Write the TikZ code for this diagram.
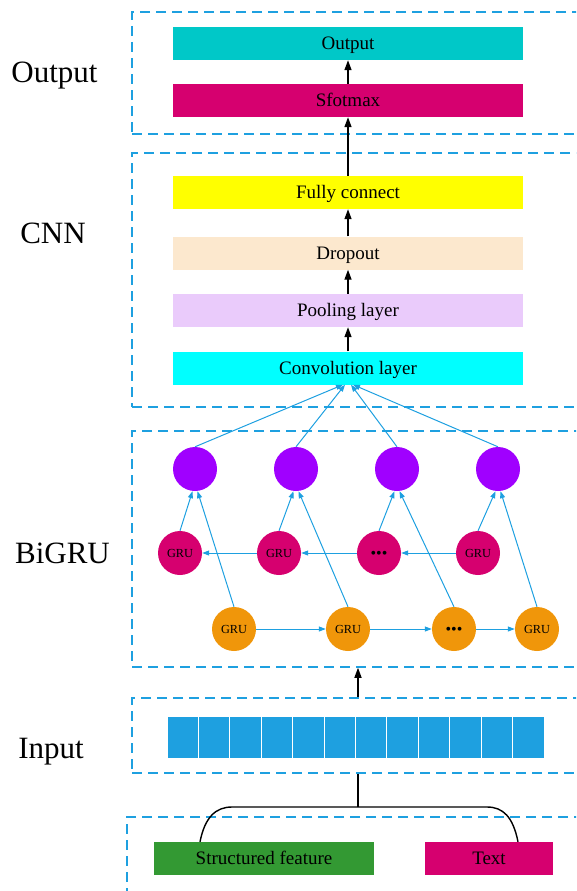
\documentclass[tikz,border=0pt]{standalone}
\usepackage{fontspec}
\setmainfont{Liberation Serif}
\usetikzlibrary{arrows.meta,calc}

\definecolor{lineblue}{RGB}{30,160,224}
\definecolor{outteal}{RGB}{0,200,200}
\definecolor{magentared}{RGB}{214,0,111}
\definecolor{fcyellow}{RGB}{255,255,0}
\definecolor{dropbisque}{RGB}{252,232,206}
\definecolor{poollilac}{RGB}{234,203,251}
\definecolor{convcyan}{RGB}{0,255,255}
\definecolor{hidpurple}{RGB}{160,0,255}
\definecolor{gruorange}{RGB}{240,150,10}
\definecolor{cellblue}{RGB}{30,160,224}
\definecolor{featgreen}{RGB}{51,153,51}

\tikzset{
  stagebox/.style={draw=lineblue, line width=1.5pt, dash pattern=on 10pt off 6pt,
    inner sep=0pt, rectangle},
  layerbox/.style={rectangle, fill=#1, minimum width=350pt, minimum height=33pt,
    inner sep=0pt, text height=12.5pt, text depth=0pt,
    font=\fontsize{19}{22}\selectfont},
  sidelabel/.style={font=\fontsize{31}{36}\selectfont, inner sep=0pt,
    text height=20.5pt, text depth=0pt},
  hidden/.style={circle, fill=hidpurple, minimum size=44pt, inner sep=0pt},
  grucirc/.style={circle, fill=#1, minimum size=44pt, inner sep=0pt,
    text height=8.1pt, text depth=0pt, font=\fontsize{12.3}{14}\selectfont},
  dots/.style={font=\fontsize{16}{16}\selectfont, text height=10pt},
  cell/.style={rectangle, fill=cellblue, draw=white, line width=1pt,
    minimum width=31.42pt, minimum height=42pt, inner sep=0pt},
  featbox/.style={rectangle, fill=#1, minimum height=33pt, inner sep=0pt,
    text height=12.5pt, text depth=0pt, font=\fontsize{19}{22}\selectfont},
  blackarrow/.style={line width=1.4pt, -{Triangle[width=7pt,length=10pt]}},
  bluearrow/.style={draw=lineblue, line width=1pt,
    -{Triangle[width=5pt,length=7pt]}, color=lineblue},
}

\begin{document}
\begin{tikzpicture}[x=1pt,y=-1pt]
\useasboundingbox (0,0) rectangle (576,891);
\clip (0,0) rectangle (576,891);

% stage frames (open to the right)
\node[stagebox, minimum width=468pt, minimum height=122pt] (outbox) at (366,73) {};
\node[stagebox, minimum width=468pt, minimum height=254pt] (cnnbox) at (366,280) {};
\node[stagebox, minimum width=468pt, minimum height=236pt] (grubox) at (366,549) {};
\node[stagebox, minimum width=468pt, minimum height=75pt] (inbox) at (366,735.5) {};
\node[stagebox, minimum width=473pt, minimum height=103pt] (botbox) at (363.5,868.5) {};

% stage names
\node[sidelabel] (lout) at (54.5,72) {Output};
\node[sidelabel] (lcnn) at (53,233.5) {CNN};
\node[sidelabel] (lgru) at (62.5,553.5) {BiGRU};
\node[sidelabel] (lin) at (51,748) {Input};

% output and CNN layers
\node[layerbox=outteal] (out) at (348,43.5) {Output};
\node[layerbox=magentared] (soft) at (348,100.5) {Sfotmax};
\node[layerbox=fcyellow] (fc) at (348,192.5) {Fully connect};
\node[layerbox=dropbisque] (drop) at (348,253) {Dropout};
\node[layerbox=poollilac] (pool) at (348,310.5) {Pooling layer};
\node[layerbox=convcyan] (conv) at (348,368) {Convolution layer};

\draw[blackarrow] (soft.north) -- (out.south);
\draw[blackarrow] (fc.north) -- (soft.south);
\draw[blackarrow] (drop.north) -- (fc.south);
\draw[blackarrow] (pool.north) -- (drop.south);
\draw[blackarrow] (conv.north) -- (pool.south);

% BiGRU
\node[hidden] (h1) at (195,469) {};
\node[hidden] (h2) at (296,469) {};
\node[hidden] (h3) at (397,469) {};
\node[hidden] (h4) at (498,469) {};

\node[grucirc=magentared] (b1) at (180,553) {GRU};
\node[grucirc=magentared] (b2) at (279,553) {GRU};
\node[grucirc=magentared, dots] (b3) at (379,553) {•••};
\node[grucirc=magentared] (b4) at (478,553) {GRU};

\node[grucirc=gruorange] (f1) at (234,629) {GRU};
\node[grucirc=gruorange] (f2) at (348,629) {GRU};
\node[grucirc=gruorange, dots] (f3) at (454,629) {•••};
\node[grucirc=gruorange] (f4) at (537,629) {GRU};

\draw[bluearrow] (h1.north) -- ([xshift=-5pt]conv.south);
\draw[bluearrow] (h2.north) -- ([xshift=-3pt]conv.south);
\draw[bluearrow] (h3.north) -- ([xshift=3pt]conv.south);
\draw[bluearrow] (h4.north) -- ([xshift=5pt]conv.south);

\foreach \i in {1,2,3,4}{
  \draw[bluearrow] (b\i.north) -- ([xshift=-2.5pt]h\i.south);
  \draw[bluearrow] (f\i.north) -- ([xshift=2.5pt]h\i.south);
}

\draw[bluearrow] (b4.west) -- (b3.east);
\draw[bluearrow] (b3.west) -- (b2.east);
\draw[bluearrow] (b2.west) -- (b1.east);
\draw[bluearrow] (f1.east) -- (f2.west);
\draw[bluearrow] (f2.east) -- (f3.west);
\draw[bluearrow] (f3.east) -- (f4.west);

% input embedding cells
\foreach \i in {1,...,12}{
  \node[cell] (c\i) at ({167+31.42*(\i-0.5)},737.5) {};
}

% raw inputs and their merge
\node[featbox=featgreen, minimum width=220pt] (sf) at (264,858.5) {Structured feature};
\node[featbox=magentared, minimum width=128pt] (txt) at (489,858.5) {Text};

\coordinate (join) at (358,807);
\coordinate (jl) at (232,807);
\coordinate (jr) at (487,807);

\draw[line width=1.4pt] ([xshift=-64pt]sf.north) .. controls ($([xshift=-64pt]sf.north)+(5,-25)$) and ($(jl)+(-16,0)$) .. (jl)
  -- (jr) .. controls ($(jr)+(16,0)$) and ($([xshift=29pt]txt.north)+(-5,-25)$) .. ([xshift=29pt]txt.north);
\draw[line width=1.4pt] (join) -- (join |- inbox.south);
\draw[blackarrow] (join |- inbox.north) -- (join |- grubox.south);

\end{tikzpicture}
\end{document}
